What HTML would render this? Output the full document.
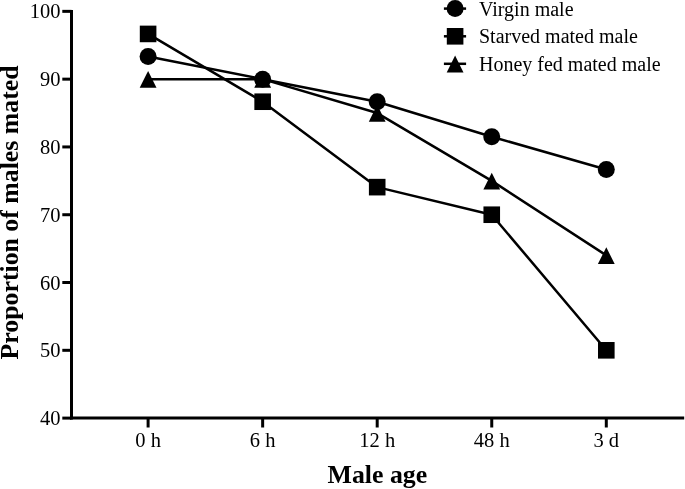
<!DOCTYPE html>
<html><head><meta charset="utf-8"><style>
html,body{margin:0;padding:0;background:#fff;}
svg{display:block;will-change:transform;}
.t{font-family:"Liberation Serif",serif;font-size:20px;fill:#000;}
.tk{font-size:20.5px;}
.b{font-family:"Liberation Serif",serif;font-size:25.8px;font-weight:bold;fill:#000;}
</style></head><body>
<svg width="685" height="489" viewBox="0 0 685 489">
<polyline points="148.10,56.58 262.65,79.15 377.20,101.72 491.75,136.77 606.30,169.51" fill="none" stroke="#000" stroke-width="2.5" stroke-linejoin="round"/>
<polyline points="148.10,33.93 262.65,101.72 377.20,187.14 491.75,214.73 606.30,350.31" fill="none" stroke="#000" stroke-width="2.5" stroke-linejoin="round"/>
<polyline points="148.10,79.15 262.65,79.15 377.20,113.05 491.75,180.84 606.30,255.40" fill="none" stroke="#000" stroke-width="2.5" stroke-linejoin="round"/>
<polygon points="148.10,70.95 156.50,87.75 139.70,87.75"/>
<polygon points="262.65,70.95 271.05,87.75 254.25,87.75"/>
<polygon points="377.20,104.85 385.60,121.65 368.80,121.65"/>
<polygon points="491.75,172.64 500.15,189.44 483.35,189.44"/>
<polygon points="606.30,247.20 614.70,264.00 597.90,264.00"/>
<rect x="139.80" y="25.63" width="16.6" height="16.6"/>
<rect x="254.35" y="93.42" width="16.6" height="16.6"/>
<rect x="368.90" y="178.84" width="16.6" height="16.6"/>
<rect x="483.45" y="206.43" width="16.6" height="16.6"/>
<rect x="598.00" y="342.01" width="16.6" height="16.6"/>
<circle cx="148.10" cy="56.58" r="8.5"/>
<circle cx="262.65" cy="79.15" r="8.5"/>
<circle cx="377.20" cy="101.72" r="8.5"/>
<circle cx="491.75" cy="136.77" r="8.5"/>
<circle cx="606.30" cy="169.51" r="8.5"/>
<line x1="71.5" y1="9.9" x2="71.5" y2="419.6" stroke="#000" stroke-width="3"/>
<line x1="70.0" y1="418.1" x2="684.2" y2="418.1" stroke="#000" stroke-width="3"/>
<line x1="62.3" y1="418.10" x2="71.5" y2="418.10" stroke="#000" stroke-width="3"/>
<text x="60.5" y="425.10" text-anchor="end" class="t tk">40</text>
<line x1="62.3" y1="350.31" x2="71.5" y2="350.31" stroke="#000" stroke-width="3"/>
<text x="60.5" y="357.31" text-anchor="end" class="t tk">50</text>
<line x1="62.3" y1="282.52" x2="71.5" y2="282.52" stroke="#000" stroke-width="3"/>
<text x="60.5" y="289.52" text-anchor="end" class="t tk">60</text>
<line x1="62.3" y1="214.73" x2="71.5" y2="214.73" stroke="#000" stroke-width="3"/>
<text x="60.5" y="221.73" text-anchor="end" class="t tk">70</text>
<line x1="62.3" y1="146.94" x2="71.5" y2="146.94" stroke="#000" stroke-width="3"/>
<text x="60.5" y="153.94" text-anchor="end" class="t tk">80</text>
<line x1="62.3" y1="79.15" x2="71.5" y2="79.15" stroke="#000" stroke-width="3"/>
<text x="60.5" y="86.15" text-anchor="end" class="t tk">90</text>
<line x1="62.3" y1="11.35" x2="71.5" y2="11.35" stroke="#000" stroke-width="3"/>
<text x="60.5" y="18.35" text-anchor="end" class="t tk">100</text>
<line x1="148.10" y1="418.1" x2="148.10" y2="427.5" stroke="#000" stroke-width="3"/>
<text x="148.10" y="447.3" text-anchor="middle" class="t tk">0 h</text>
<line x1="262.65" y1="418.1" x2="262.65" y2="427.5" stroke="#000" stroke-width="3"/>
<text x="262.65" y="447.3" text-anchor="middle" class="t tk">6 h</text>
<line x1="377.20" y1="418.1" x2="377.20" y2="427.5" stroke="#000" stroke-width="3"/>
<text x="377.20" y="447.3" text-anchor="middle" class="t tk">12 h</text>
<line x1="491.75" y1="418.1" x2="491.75" y2="427.5" stroke="#000" stroke-width="3"/>
<text x="491.75" y="447.3" text-anchor="middle" class="t tk">48 h</text>
<line x1="606.30" y1="418.1" x2="606.30" y2="427.5" stroke="#000" stroke-width="3"/>
<text x="606.30" y="447.3" text-anchor="middle" class="t tk">3 d</text>
<line x1="443.9" y1="8.6" x2="466.1" y2="8.6" stroke="#000" stroke-width="2.5"/>
<circle cx="455.10" cy="8.60" r="8.5"/>
<text x="479" y="15.70" class="t">Virgin male</text>
<line x1="443.9" y1="36.3" x2="466.1" y2="36.3" stroke="#000" stroke-width="2.5"/>
<rect x="446.80" y="28.00" width="16.6" height="16.6"/>
<text x="479" y="43.40" class="t">Starved mated male</text>
<line x1="443.9" y1="63.8" x2="466.1" y2="63.8" stroke="#000" stroke-width="2.5"/>
<polygon points="455.10,55.60 463.50,72.40 446.70,72.40"/>
<text x="479" y="70.90" class="t">Honey fed mated male</text>
<text x="377.4" y="482.9" text-anchor="middle" class="b">Male age</text>
<text transform="translate(17.9,212.45) rotate(-90)" text-anchor="middle" class="b">Proportion of males mated</text>
</svg>
</body></html>
